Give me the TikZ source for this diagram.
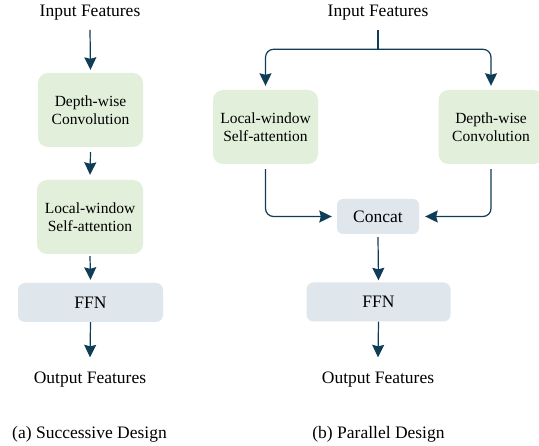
\documentclass[tikz,border=0pt]{standalone}
\usepackage{fontspec}
\setmainfont{Liberation Serif}
\usetikzlibrary{arrows.meta}
\definecolor{boxgreen}{HTML}{E2EFDA}
\definecolor{boxgray}{HTML}{DFE6EC}
\definecolor{arrcol}{HTML}{0F3D56}
\newcommand{\lblfont}{\rmfamily\fontsize{17.5}{21}\selectfont}
\newcommand{\gfont}{\rmfamily\fontsize{15.5}{17.7}\selectfont}
\begin{document}
\begin{tikzpicture}[x=1pt,y=-1pt,
  lbl/.style={inner sep=0pt, font=\lblfont},
  gbox/.style={fill=boxgreen, rounded corners=10pt, align=center, inner sep=0pt, font=\gfont},
  bbox/.style={fill=boxgray, rounded corners=7pt, align=center, inner sep=0pt, font=\lblfont},
  conn/.style={draw=arrcol, line width=1.2pt},
  arr/.style={conn, -{Stealth[inset=1.5pt, width=12pt, length=12.5pt]}}]
\fill[white] (0,0) rectangle (539,446);
\useasboundingbox (0,0) rectangle (539,446);
% (a) successive
\node[lbl] (inL) at (90,13) {Input Features};
\node[gbox, minimum width=105pt, minimum height=74pt] (dwL) at (90.5,110) {Depth-wise\\Convolution};
\node[gbox, minimum width=106pt, minimum height=74pt] (lwL) at (90,217) {Local-window\\Self-attention};
\node[bbox, minimum width=145pt, minimum height=39pt] (ffnL) at (90.5,302.5) {FFN};
\node[lbl] (outL) at (90,379.2) {Output Features};
\node[lbl] (capA) at (89.5,434.2) {(a) Successive Design};
\draw[arr] ([yshift=-9pt]inL.south) -- ([yshift=3pt]dwL.north);
\draw[arr] ([yshift=-5pt]dwL.south) -- ([yshift=5pt]lwL.north);
\draw[arr] ([yshift=-2pt]lwL.south) -- ([yshift=3pt]ffnL.north);
\draw[arr] (ffnL.south) -- ([yshift=14pt]outL.north);
% (b) parallel
\node[lbl] (inR) at (378,13) {Input Features};
\node[gbox, minimum width=105pt, minimum height=74pt] (lwR) at (265.5,127) {Local-window\\Self-attention};
\node[gbox, minimum width=105pt, minimum height=74pt] (dwR) at (491,127) {Depth-wise\\Convolution};
\node[bbox, minimum width=82pt, minimum height=35pt, rounded corners=6pt] (cat) at (378,216.5) {Concat};
\node[bbox, minimum width=144pt, minimum height=39pt] (ffnR) at (378.5,302) {FFN};
\node[lbl] (outR) at (378,379.2) {Output Features};
\node[lbl] (capB) at (378.5,434.2) {(b) Parallel Design};
\coordinate (splitY) at (0,49.3);
\coordinate (split) at (inR.south |- splitY);
\draw[conn] ([yshift=-9pt]inR.south) -- (split);
\draw[arr, rounded corners=8pt] (split) -| ([yshift=4pt]lwR.north);
\draw[arr, rounded corners=8pt] (split) -| ([yshift=4pt]dwR.north);
\draw[arr, rounded corners=8pt] ([yshift=-5pt]lwR.south) |- ([xshift=-5pt]cat.west);
\draw[arr, rounded corners=8pt] ([yshift=-5pt]dwR.south) |- ([xshift=6pt]cat.east);
\draw[arr] ([yshift=-3pt]cat.south) -- ([yshift=2pt]ffnR.north);
\draw[arr] (ffnR.south) -- ([yshift=14pt]outR.north);
\end{tikzpicture}
\end{document}
